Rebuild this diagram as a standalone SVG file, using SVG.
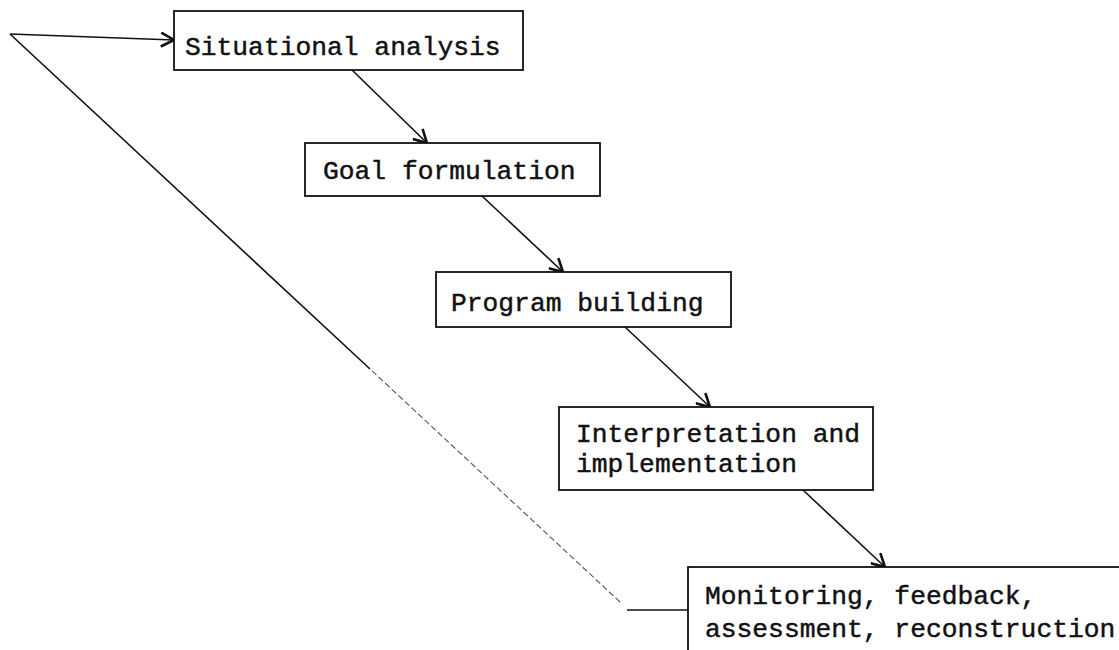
<svg xmlns="http://www.w3.org/2000/svg" width="1119" height="650" viewBox="0 0 1119 650">
  <style>
    .box { fill: #fff; stroke: #111; stroke-width: 1.8; }
    .lbl { font-family: "Liberation Mono", "DejaVu Sans Mono", monospace; font-size: 26.3px; fill: #111; stroke: #111; stroke-width: 0.45; }
    .conn { fill: none; stroke: #111; stroke-width: 1.6; }
    .faded { fill: none; stroke: #555; stroke-width: 1.1; stroke-dasharray: 6 3; }
  </style>
  <defs>
    <marker id="arrow" viewBox="0 0 16 16" refX="15" refY="8" markerWidth="16" markerHeight="16" markerUnits="userSpaceOnUse" orient="auto">
      <path d="M2,1 L15,8 L2,15" fill="none" stroke="#111" stroke-width="2.6" stroke-linejoin="miter"/>
    </marker>
  </defs>
  <rect width="1119" height="650" fill="#fff"/>

  <g id="connectors">
    <line class="conn" x1="352" y1="70" x2="427" y2="143" marker-end="url(#arrow)"/>
    <line class="conn" x1="482" y1="196" x2="563" y2="272" marker-end="url(#arrow)"/>
    <line class="conn" x1="625" y1="327" x2="710" y2="407" marker-end="url(#arrow)"/>
    <line class="conn" x1="803" y1="490" x2="885" y2="567" marker-end="url(#arrow)"/>
    <line class="conn" x1="688" y1="610" x2="627" y2="610"/>
    <line class="faded" x1="620" y1="602" x2="370" y2="369"/>
    <line class="conn" x1="370" y1="369" x2="10" y2="34"/>
    <line class="conn" x1="10" y1="34" x2="174" y2="40" marker-end="url(#arrow)"/>
  </g>

  <g id="node-situational-analysis">
    <rect class="box" x="174" y="11" width="349" height="59"/>
    <text class="lbl" x="185" y="55">Situational analysis</text>
  </g>

  <g id="node-goal-formulation">
    <rect class="box" x="305" y="143" width="295" height="53"/>
    <text class="lbl" x="323" y="179">Goal formulation</text>
  </g>

  <g id="node-program-building">
    <rect class="box" x="436" y="272" width="295" height="55"/>
    <text class="lbl" x="451" y="311">Program building</text>
  </g>

  <g id="node-interpretation">
    <rect class="box" x="559" y="407" width="314" height="83"/>
    <text class="lbl" x="576" y="442">Interpretation and</text>
    <text class="lbl" x="576" y="472">implementation</text>
  </g>

  <g id="node-monitoring">
    <rect class="box" x="688" y="567" width="520" height="200"/>
    <text class="lbl" x="705" y="604">Monitoring, feedback,</text>
    <text class="lbl" x="705" y="637">assessment, reconstruction</text>
  </g>
</svg>
